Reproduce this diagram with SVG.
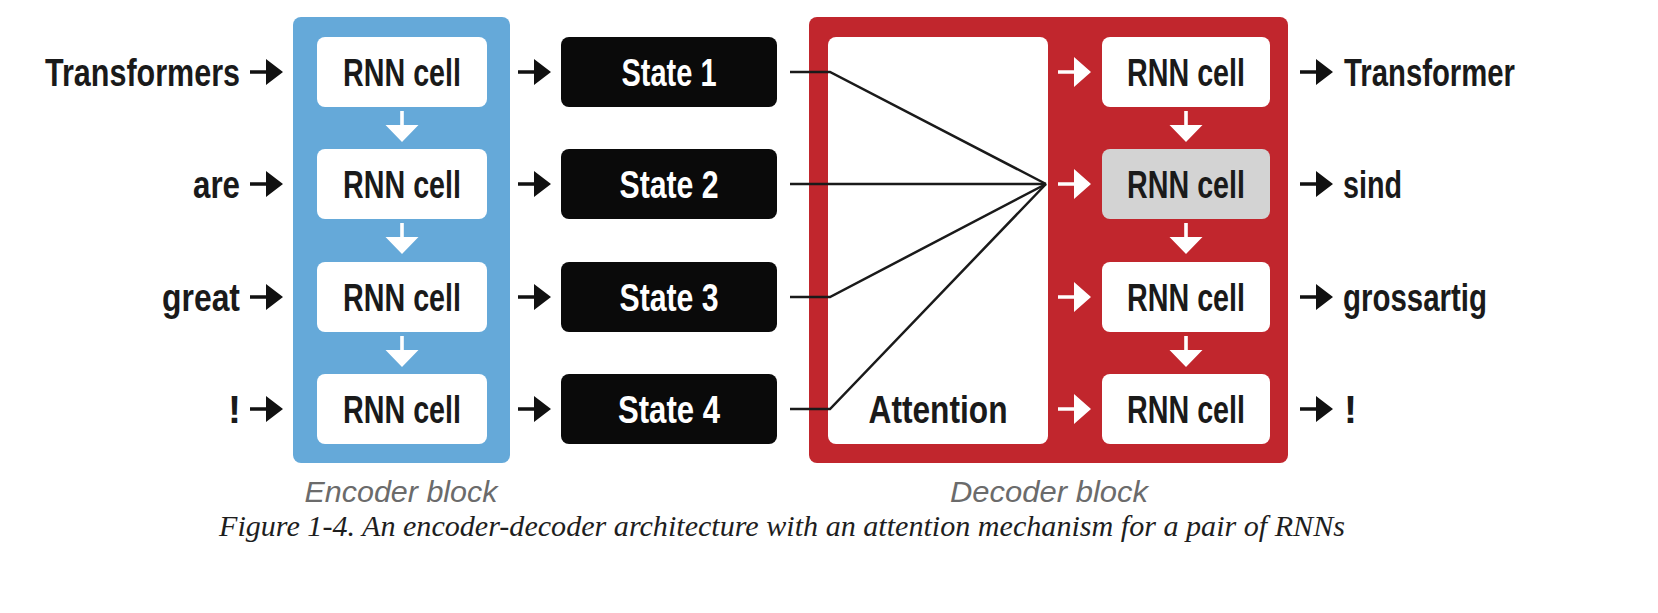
<svg xmlns="http://www.w3.org/2000/svg" xmlns:xlink="http://www.w3.org/1999/xlink" width="1658" height="613" viewBox="0 0 1658 613">
<style>
.lbl{font-family:"Liberation Sans",Arial,sans-serif;font-weight:bold;font-size:39px;fill:#1a1a1a}
.cell{fill:#ffffff}
.grey{fill:#d3d3d3}
.state{fill:#0a0a0a}
.stxt{font-family:"Liberation Sans",Arial,sans-serif;font-weight:bold;font-size:39px;fill:#ffffff}
.blk{font-family:"Liberation Sans",Arial,sans-serif;font-style:italic;font-size:30px;fill:#6b6b6b}
.cap{font-family:"Liberation Serif","Times New Roman",serif;font-style:italic;font-size:29px;fill:#1e1e1e}
.ab{fill:#111111}
.aw{fill:#ffffff}
.ln{fill:none;stroke:#1a1a1a;stroke-width:2.5;stroke-linejoin:miter}
</style>
<defs>
<path id="arrR" d="M0,-1.8 H16 V-13 L33,0 L16,13 V1.8 H0 Z"/>
<path id="arrRw" d="M0,-1.8 H16 V-15 L33,0 L16,15 V1.8 H0 Z"/>
<path id="arrD" d="M-1.8,0 V14 H-16.5 L0,31 L16.5,14 H1.8 V0 Z"/>
</defs>
<rect width="1658" height="613" fill="#ffffff"/>

<g id="encoder-block">
<rect x="293" y="17" width="217" height="446" rx="8" fill="#65a9d9"/>
<text class="blk" x="401" y="502" text-anchor="middle" textLength="193" lengthAdjust="spacingAndGlyphs">Encoder block</text>
</g>
<g id="enc-cell-1"><rect class="cell" x="317" y="37" width="170" height="70" rx="8"/><text class="lbl" x="402" y="86" text-anchor="middle" textLength="118" lengthAdjust="spacingAndGlyphs">RNN cell</text></g>
<g id="enc-cell-2"><rect class="cell" x="317" y="149" width="170" height="70" rx="8"/><text class="lbl" x="402" y="198" text-anchor="middle" textLength="118" lengthAdjust="spacingAndGlyphs">RNN cell</text></g>
<g id="enc-cell-3"><rect class="cell" x="317" y="262" width="170" height="70" rx="8"/><text class="lbl" x="402" y="311" text-anchor="middle" textLength="118" lengthAdjust="spacingAndGlyphs">RNN cell</text></g>
<g id="enc-cell-4"><rect class="cell" x="317" y="374" width="170" height="70" rx="8"/><text class="lbl" x="402" y="423" text-anchor="middle" textLength="118" lengthAdjust="spacingAndGlyphs">RNN cell</text></g>

<g id="input-1"><text class="lbl" x="45" y="86" textLength="195" lengthAdjust="spacingAndGlyphs">Transformers</text></g>
<g id="input-2"><text class="lbl" x="193" y="198" textLength="47" lengthAdjust="spacingAndGlyphs">are</text></g>
<g id="input-3"><text class="lbl" x="162" y="311" textLength="78" lengthAdjust="spacingAndGlyphs">great</text></g>
<g id="input-4"><text class="lbl" x="241" y="423" text-anchor="end">!</text></g>

<g id="state-1"><rect class="state" x="561" y="37" width="216" height="70" rx="8"/><text class="stxt" x="669" y="86" text-anchor="middle" textLength="95" lengthAdjust="spacingAndGlyphs">State 1</text></g>
<g id="state-2"><rect class="state" x="561" y="149" width="216" height="70" rx="8"/><text class="stxt" x="669" y="198" text-anchor="middle" textLength="99" lengthAdjust="spacingAndGlyphs">State 2</text></g>
<g id="state-3"><rect class="state" x="561" y="262" width="216" height="70" rx="8"/><text class="stxt" x="669" y="311" text-anchor="middle" textLength="99" lengthAdjust="spacingAndGlyphs">State 3</text></g>
<g id="state-4"><rect class="state" x="561" y="374" width="216" height="70" rx="8"/><text class="stxt" x="669" y="423" text-anchor="middle" textLength="102" lengthAdjust="spacingAndGlyphs">State 4</text></g>

<g id="decoder-block">
<rect x="809" y="17" width="479" height="446" rx="8" fill="#c1262d"/>
<text class="blk" x="1049" y="502" text-anchor="middle" textLength="198" lengthAdjust="spacingAndGlyphs">Decoder block</text>
</g>
<g id="attention"><rect class="cell" x="828" y="37" width="220" height="407" rx="8"/><text class="lbl" x="938" y="423" text-anchor="middle" textLength="139" lengthAdjust="spacingAndGlyphs">Attention</text></g>

<g id="dec-cell-1"><rect class="cell" x="1102" y="37" width="168" height="70" rx="8"/><text class="lbl" x="1186" y="86" text-anchor="middle" textLength="118" lengthAdjust="spacingAndGlyphs">RNN cell</text></g>
<g id="dec-cell-2"><rect class="grey" x="1102" y="149" width="168" height="70" rx="8"/><text class="lbl" x="1186" y="198" text-anchor="middle" textLength="118" lengthAdjust="spacingAndGlyphs">RNN cell</text></g>
<g id="dec-cell-3"><rect class="cell" x="1102" y="262" width="168" height="70" rx="8"/><text class="lbl" x="1186" y="311" text-anchor="middle" textLength="118" lengthAdjust="spacingAndGlyphs">RNN cell</text></g>
<g id="dec-cell-4"><rect class="cell" x="1102" y="374" width="168" height="70" rx="8"/><text class="lbl" x="1186" y="423" text-anchor="middle" textLength="118" lengthAdjust="spacingAndGlyphs">RNN cell</text></g>

<g id="output-1"><text class="lbl" x="1344" y="86" textLength="171" lengthAdjust="spacingAndGlyphs">Transformer</text></g>
<g id="output-2"><text class="lbl" x="1343" y="198" textLength="59" lengthAdjust="spacingAndGlyphs">sind</text></g>
<g id="output-3"><text class="lbl" x="1343" y="311" textLength="144" lengthAdjust="spacingAndGlyphs">grossartig</text></g>
<g id="output-4"><text class="lbl" x="1344" y="423">!</text></g>

<g id="connectors">
<polyline class="ln" points="790,72 830,72 1046,184"/>
<polyline class="ln" points="790,184 1046,184"/>
<polyline class="ln" points="790,297 830,297 1046,184"/>
<polyline class="ln" points="790,409 830,409 1046,184"/>
<use href="#arrR" class="ab" x="250" y="72"/>
<use href="#arrR" class="ab" x="250" y="184"/>
<use href="#arrR" class="ab" x="250" y="297"/>
<use href="#arrR" class="ab" x="250" y="409"/>
<use href="#arrR" class="ab" x="518" y="72"/>
<use href="#arrR" class="ab" x="518" y="184"/>
<use href="#arrR" class="ab" x="518" y="297"/>
<use href="#arrR" class="ab" x="518" y="409"/>
<use href="#arrR" class="ab" x="1300" y="72"/>
<use href="#arrR" class="ab" x="1300" y="184"/>
<use href="#arrR" class="ab" x="1300" y="297"/>
<use href="#arrR" class="ab" x="1300" y="409"/>
<use href="#arrRw" class="aw" x="1058" y="72"/>
<use href="#arrRw" class="aw" x="1058" y="184"/>
<use href="#arrRw" class="aw" x="1058" y="297"/>
<use href="#arrRw" class="aw" x="1058" y="409"/>
<use href="#arrD" class="aw" x="402" y="111"/>
<use href="#arrD" class="aw" x="402" y="223"/>
<use href="#arrD" class="aw" x="402" y="336"/>
<use href="#arrD" class="aw" x="1186" y="111"/>
<use href="#arrD" class="aw" x="1186" y="223"/>
<use href="#arrD" class="aw" x="1186" y="336"/>
</g>

<text class="cap" x="219" y="536" textLength="1126" lengthAdjust="spacingAndGlyphs">Figure 1-4. An encoder-decoder architecture with an attention mechanism for a pair of RNNs</text>
</svg>
